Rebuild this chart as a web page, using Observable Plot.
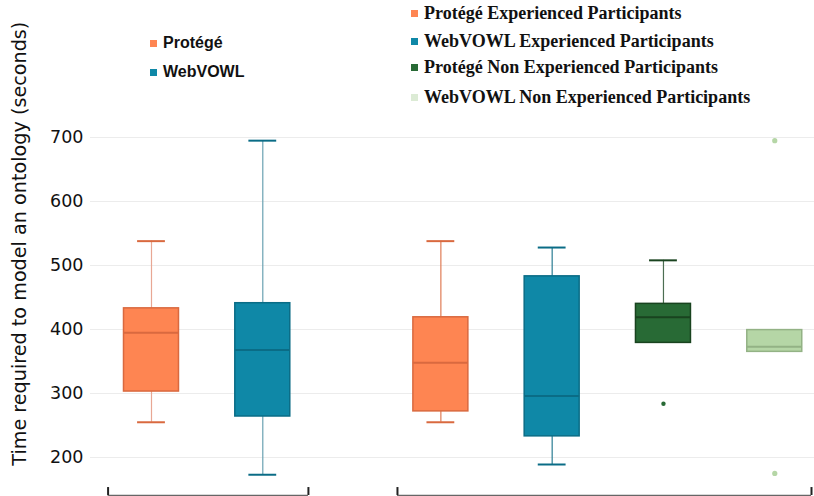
<!DOCTYPE html>
<html>
<head>
<meta charset="utf-8">
<script src="https://cdn.jsdelivr.net/npm/d3@7"></script>
<script src="https://cdn.jsdelivr.net/npm/@observablehq/plot@0.6"></script>
<style>
  html, body { margin: 0; padding: 0; background: #fff; }
  #wrap { position: relative; width: 814px; height: 496px; overflow: hidden; }
  .leg { position: absolute; color: #111; white-space: nowrap; }
  .leg .row { position: absolute; display: flex; align-items: center; }
  .leg .sw { width: 7px; height: 7px; margin-right: 6px; }
  #leg1 { font-family: "Liberation Sans", Arial, sans-serif; font-weight: bold; font-size: 16px; }
  #leg2 { font-family: "Liberation Serif", "Times New Roman", serif; font-weight: bold; font-size: 18px; }
</style>
</head>
<body>
<div id="wrap"></div>
<script>
// ---- data ----
const categories = [
  "Protégé", "WebVOWL",
  "Protégé Experienced Participants", "WebVOWL Experienced Participants",
  "Protégé Non Experienced Participants", "WebVOWL Non Experienced Participants"
];
const groupOf = [0, 0, 1, 1, 1, 1];
const mins    = [255, 173, 255, 189, 379, 365];
const q1s     = [303, 264, 272, 233, 379, 365];
const medians = [395, 368, 348, 296, 419, 373];
const q3s     = [433, 441, 419, 483, 440, 399];
const maxs    = [538, 695, 538, 528, 508, 399];
const outlierCat = [4, 5, 5];
const outlierVal = [284, 695, 175];
const yTicks = [200, 300, 400, 500, 600, 700];
const yLabel = "Time required to model an ontology (seconds)";

const fills   = ["#FE8552", "#0F88A7", "#FE8552", "#0F88A7", "#286A35", "#B5D6A6"];
const strokes = ["#D9693F", "#0A6C86", "#D9693F", "#0A6C86", "#19431F", "#93B285"];
const whisk   = ["#E8A794", "#6AA2B2", "#E07C56", "#2A7D93", "#4C6E52", "#93B285"];

// ---- layout helpers (derived positions) ----
const groupGap = 0.6;
const pos = categories.map((c, i) => i + (groupOf[i] === 1 ? groupGap : 0));
const rows = categories.map((c, i) => ({
  cat: c, x: pos[i], min: mins[i], q1: q1s[i], med: medians[i], q3: q3s[i], max: maxs[i],
  fill: fills[i], stroke: strokes[i], wh: whisk[i]
}));
const outliers = outlierCat.map((c, i) => ({x: pos[c], y: outlierVal[i], fill: fills[c], r: c === 5 ? 2.6 : 2.2}));
const hb = 0.247, hc = 0.125;
const brackets = [0, 1].map(g => {
  const xs = pos.filter((p, i) => groupOf[i] === g);
  return {x1: d3.min(xs) - 0.39, x2: d3.max(xs) + (g === 0 ? 0.41 : 0.33)};
});
const yBase = 140.6, yTickTop = 153;
const xDom = [-0.548, 5.957];

const lowW = rows.filter(r => r.min < r.q1);
const highW = rows.filter(r => r.max > r.q3);

const chart = Plot.plot({
  width: 814,
  height: 496,
  marginLeft: 90,
  marginRight: 0,
  marginTop: 0,
  marginBottom: 0,
  style: {fontFamily: "DejaVu Sans, sans-serif", background: "transparent"},
  x: {type: "linear", domain: xDom, axis: null},
  y: {domain: [139, 914], ticks: yTicks},
  r: {type: "identity"},
  marks: [
    Plot.ruleY(yTicks, {x1: xDom[0], x2: xDom[1], stroke: "#ececec", strokeWidth: 1}),
    Plot.axisY(yTicks, {tickSize: 0, tickPadding: 7, fontSize: 17.5, fill: "#111", label: null}),
    Plot.text([yLabel], {x: xDom[0], y: 534, text: d => d, rotate: -90, dx: -71, lineAnchor: "middle",
      textAnchor: "middle", fontSize: 19.2, fill: "#111"}),
    // whiskers
    Plot.ruleX(lowW, {x: "x", y1: "min", y2: "q1", stroke: "wh", strokeWidth: 1.2}),
    Plot.ruleX(highW, {x: "x", y1: "q3", y2: "max", stroke: "wh", strokeWidth: 1.2}),
    Plot.ruleY(lowW, {y: "min", x1: d => d.x - hc, x2: d => d.x + hc, stroke: "stroke", strokeWidth: 2}),
    Plot.ruleY(highW, {y: "max", x1: d => d.x - hc, x2: d => d.x + hc, stroke: "stroke", strokeWidth: 2}),
    // boxes
    Plot.rect(rows, {x1: d => d.x - hb, x2: d => d.x + hb, y1: "q1", y2: "q3", fill: "fill", stroke: "stroke", strokeWidth: 1.5}),
    Plot.ruleY(rows, {y: "med", x1: d => d.x - hb, x2: d => d.x + hb, stroke: "stroke", strokeWidth: 2}),
    // outliers
    Plot.dot(outliers, {x: "x", y: "y", r: "r", fill: "fill", stroke: null}),
    // group brackets
    Plot.ruleY(brackets, {y: yBase, x1: "x1", x2: "x2", stroke: "#666", strokeWidth: 1.5}),
    Plot.ruleX(brackets, {x: "x1", y1: yBase, y2: yTickTop, stroke: "#222", strokeWidth: 2}),
    Plot.ruleX(brackets, {x: "x2", y1: yBase, y2: yTickTop, stroke: "#222", strokeWidth: 2})
  ]
});

const wrap = document.getElementById("wrap");
wrap.appendChild(chart);

// legends (HTML overlays)
function legend(id, items, left, tops) {
  const div = document.createElement("div");
  div.className = "leg"; div.id = id;
  div.style.left = left + "px"; div.style.top = "0px";
  items.forEach((it, i) => {
    const row = document.createElement("div");
    row.className = "row";
    row.style.top = tops[i] + "px";
    row.innerHTML = `<span class="sw" style="background:${it.color}"></span><span>${it.label}</span>`;
    div.appendChild(row);
  });
  wrap.appendChild(div);
}
legend("leg1", [0, 1].map(i => ({label: categories[i], color: fills[i]})), 150, [34, 63]);
legend("leg2", [2, 3, 4, 5].map(i => ({label: categories[i], color: fills[i] === "#B5D6A6" ? "#DCEBD5" : fills[i]})), 411, [3, 31, 57, 87]);
</script>
</body>
</html>
